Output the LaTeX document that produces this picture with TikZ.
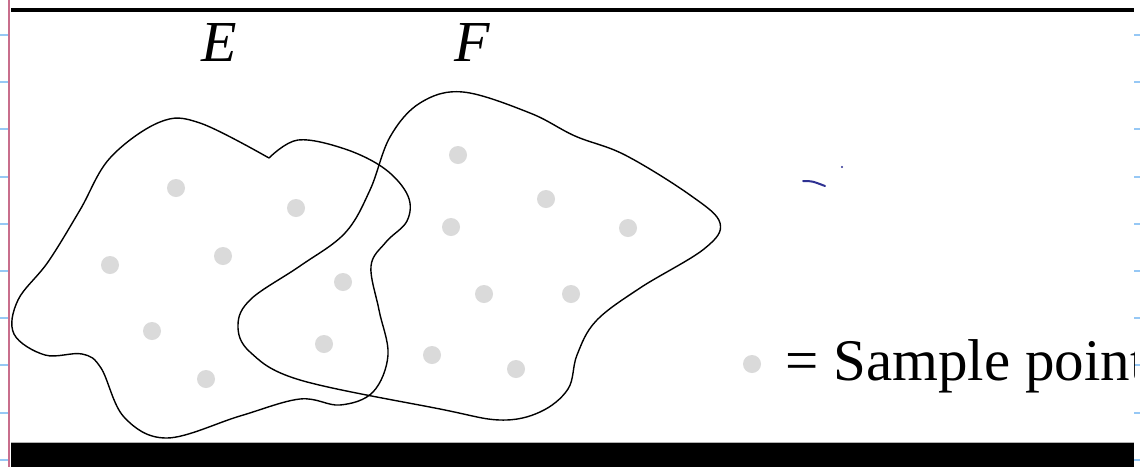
\documentclass[tikz,border=0pt]{standalone}
\usepackage{fontspec}
\setmainfont{Liberation Serif}
\definecolor{dotgray}{RGB}{218,218,218}
\definecolor{pinkline}{RGB}{200,110,140}
\definecolor{ruleblue}{RGB}{150,200,245}
\definecolor{inkblue}{RGB}{46,49,146}
\tikzset{
  sample/.style={circle,fill=dotgray,inner sep=0pt,minimum size=9pt},
  setline/.style={draw=black,line width=0.7pt},
  setlabel/.style={font=\fontsize{29}{30}\selectfont\itshape,inner sep=0pt},
  legendtext/.style={font=\fontsize{29.5}{30}\selectfont,inner sep=0pt,anchor=base west},
  rulemark/.style={draw=ruleblue,line width=1pt},
  inkmark/.style={draw=inkblue,line width=1pt,line cap=round}
}
\begin{document}
\begin{tikzpicture}[x=0.5pt,y=-0.5pt]
\useasboundingbox (0,0) rectangle (1140,467);
\fill[white] (0,0) rectangle (1140,467);
% bars
\fill[black] (11,8) rectangle (1134,12);
\fill[black] (11,442) rectangle (1134,467);
\draw[gray!60,line width=0.5pt] (11,442) -- (1134,442);
% margin rules
\draw[pinkline,line width=1pt] (9,0) -- (9,467);
\foreach \k in {0,...,9}{
  \draw[rulemark] (0,{35+47.2*\k}) -- (8,{35+47.2*\k});
  \draw[rulemark] (1134,{35+47.2*\k}) -- (1140,{35+47.2*\k});
}
% sample points of E
\node[sample] (e1) at (176,188) {};
\node[sample] (e2) at (296,208) {};
\node[sample] (e3) at (223,256) {};
\node[sample] (e4) at (110,265) {};
\node[sample] (e5) at (152,331) {};
\node[sample] (e6) at (206,379) {};
\node[sample] (e7) at (343,282) {};
\node[sample] (e8) at (324,344) {};
% sample points of F
\node[sample] (f1) at (458,155) {};
\node[sample] (f2) at (546,199) {};
\node[sample] (f3) at (451,227) {};
\node[sample] (f4) at (628,228) {};
\node[sample] (f5) at (484,294) {};
\node[sample] (f6) at (571,294) {};
\node[sample] (f7) at (432,355) {};
\node[sample] (f8) at (516,369) {};
% set E
\draw[setline] plot[smooth,tension=0.6] coordinates {
 (269,158) (298,140) (345,149) (385,169) (408,196) (407,221) (386,242)
 (371,266) (379,310) (388,355) (373,392) (340,405) (300,399) (240,416)
 (167,438) (124,417) (101,368) (82,354) (45,355) (14,334) (18,300)
 (48,262) (80,210) (110,158) (160,122) (200,123) (269,158)};
% set F
\draw[setline] plot[smooth cycle,tension=0.6] coordinates {
 (463,92) (530,113) (575,136) (625,155) (690,195) (720,223) (704,249)
 (640,288) (596,321) (577,355) (568,389) (540,412) (500,420) (440,409)
 (300,380) (250,352) (238,325) (251,299) (300,266) (345,233) (370,190)
 (390,137) (420,103)};
% labels
\node[setlabel] (lE) at (219,43) {E};
\node[setlabel] (lF) at (472,43) {F};
% legend
\node[sample] (leg) at (752,364) {};
\begin{scope}
\clip (700,300) rectangle (1134,440);
\node[legendtext] (legtext) at (785,380) {= Sample point};
\end{scope}
% stray ink marks
\draw[inkmark] (803,181) .. controls (812,181) .. (825,186);
\fill[inkblue] (842,167) circle[radius=0.6pt];
\end{tikzpicture}
\end{document}
